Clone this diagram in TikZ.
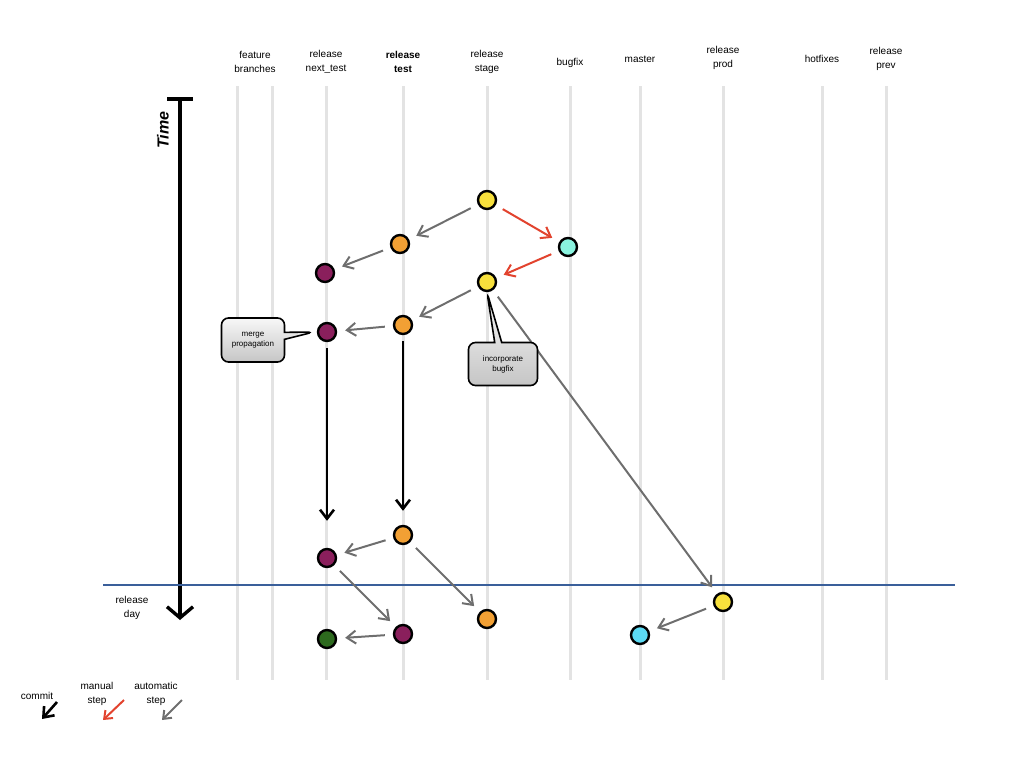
\documentclass[tikz,border=0pt]{standalone}
\usepackage{fontspec}
\setmainfont{Liberation Sans}
\usepackage{xcolor}
\usetikzlibrary{positioning,arrows.meta,shapes.callouts}

\definecolor{cyellow}{HTML}{F7E03C}
\definecolor{corange}{HTML}{F2A034}
\definecolor{cmint}{HTML}{8AF3DF}
\definecolor{csky}{HTML}{5BD9F2}
\definecolor{cplum}{HTML}{8A1F5C}
\definecolor{cgreen}{HTML}{2D6A1E}
\definecolor{cred}{HTML}{E2432E}
\definecolor{cblue}{HTML}{3A5F9A}
\definecolor{cgray}{HTML}{6E6E6E}

\begin{document}
\begin{tikzpicture}[
  x=1pt, y=-1pt,
  font=\fontsize{10}{14}\selectfont,
  lbl/.style={align=center, inner sep=1pt},
  lane/.style={line width=3pt, gray!22},
  commit/.style={circle, draw, line width=2.4pt, minimum size=18pt, inner sep=0pt},
  autostep/.style={-{Straight Barb[length=9pt,width=13pt]}, line width=2pt, cgray, shorten <=8pt, shorten >=8pt},
  manualstep/.style={autostep, cred},
  commitstep/.style={-{Straight Barb[length=9pt,width=14pt]}, line width=2.6pt, black, shorten <=6pt, shorten >=14pt},
  note/.style={rectangle callout, draw, line width=1.6pt, rounded corners=7pt, top color=gray!6, bottom color=gray!45,
    align=center, font=\fontsize{8}{10}\selectfont, callout pointer width=7pt},
  legend/.style={shorten <=0pt, shorten >=0pt}
]
\useasboundingbox (0,0) rectangle (1024,768);
% branch headers
\node[lbl] (hfeat)  at (255,62) {feature\\branches};
\node[lbl] (hnext)  at (326,62) {release\\next\_test};
\node[lbl] (htest)  at (403,62) {\textbf{release}\\\textbf{test}};
\node[lbl] (hstage) at (487,62) {release\\stage};
\node[lbl] (hbug)   at (570,63) {bugfix};
\node[lbl] (hmast)  at (640,59) {master};
\node[lbl] (hprod)  at (723,58) {release\\prod};
\node[lbl] (hhot)   at (822,59) {hotfixes};
\node[lbl] (hprev)  at (886,59) {release\\prev};
% lanes
\foreach \x in {237,272,326,403,487,570,640,723,822,886}
  \draw[lane] (\x,86) -- (\x,680);
% time and release day
\coordinate (ttop) at (180,97);
\coordinate (tbot) at (180,620);
\draw[{Bar[width=26pt,line width=4pt]}-{Straight Barb[length=11pt,width=26pt,line width=3.4pt]}, line width=3.2pt] (ttop) -- (tbot);
\node[rotate=90, font=\fontsize{16}{18}\selectfont\bfseries\itshape] (time) at (163,130) {Time};
\coordinate (rdl) at (103,585);
\coordinate (rdr) at (955,585);
\draw[cblue, line width=1.8pt] (rdl) -- (rdr);
\node[lbl] (rday) at (132,608) {release\\day};
% commits
\node[commit, fill=cyellow] (st1) at (487,200) {};
\node[commit, fill=corange] (te1) at (400,244) {};
\node[commit, fill=cmint]   (bf1) at (568,247) {};
\node[commit, fill=cplum]   (nt1) at (325,273) {};
\node[commit, fill=cyellow] (st2) at (487,282) {};
\node[commit, fill=corange] (te2) at (403,325) {};
\node[commit, fill=cplum]   (nt2) at (327,332) {};
\node[commit, fill=corange] (te3) at (403,535) {};
\node[commit, fill=cplum]   (nt3) at (327,558) {};
\node[commit, fill=cyellow] (pr1) at (723,602) {};
\node[commit, fill=corange] (st3) at (487,619) {};
\node[commit, fill=cplum]   (te4) at (403,634) {};
\node[commit, fill=cgreen]  (nt4) at (327,639) {};
\node[commit, fill=csky]    (ma1) at (640,635) {};
% steps
\draw[autostep]   (st1) -- (te1);
\draw[manualstep] (st1) -- (bf1);
\draw[manualstep] (bf1) -- (st2);
\draw[autostep]   (te1) -- (nt1);
\draw[autostep]   (st2) -- (te2);
\draw[autostep]   (te2) -- (nt2);
\draw[autostep]   (st2) -- (pr1);
\draw[commitstep] (te2) -- (te3);
\draw[commitstep, shorten >=27pt] (nt2) -- (nt3);
\draw[autostep]   (te3) -- (nt3);
\draw[autostep]   (te3) -- (st3);
\draw[autostep]   (nt3) -- (te4);
\draw[autostep]   (te4) -- (nt4);
\draw[autostep]   (pr1) -- (ma1);
% notes
\node[note, minimum width=63pt, minimum height=44pt, callout absolute pointer={([xshift=-3pt]nt2.west)}] (nmerge) at (253,340) {merge\\propagation};
\node[note, minimum width=69pt, minimum height=43pt, callout absolute pointer={(st2.south)}] (nbug) at (503,364) {incorporate\\bugfix};
% legend
\node[lbl] (lcommit) at (37,696) {commit};
\coordinate (lc1) at (57,702);
\coordinate (lc2) at (42,719);
\draw[commitstep, legend] (lc1) -- (lc2);
\node[lbl] (lmanual) at (97,694) {manual\\step};
\coordinate (lm1) at (124,700);
\coordinate (lm2) at (103,720);
\draw[manualstep, legend, -{Straight Barb[length=7pt,width=11pt]}] (lm1) -- (lm2);
\node[lbl] (lauto) at (156,694) {automatic\\step};
\coordinate (la1) at (182,700);
\coordinate (la2) at (162,720);
\draw[autostep, legend, -{Straight Barb[length=7pt,width=11pt]}] (la1) -- (la2);
\end{tikzpicture}
\end{document}
